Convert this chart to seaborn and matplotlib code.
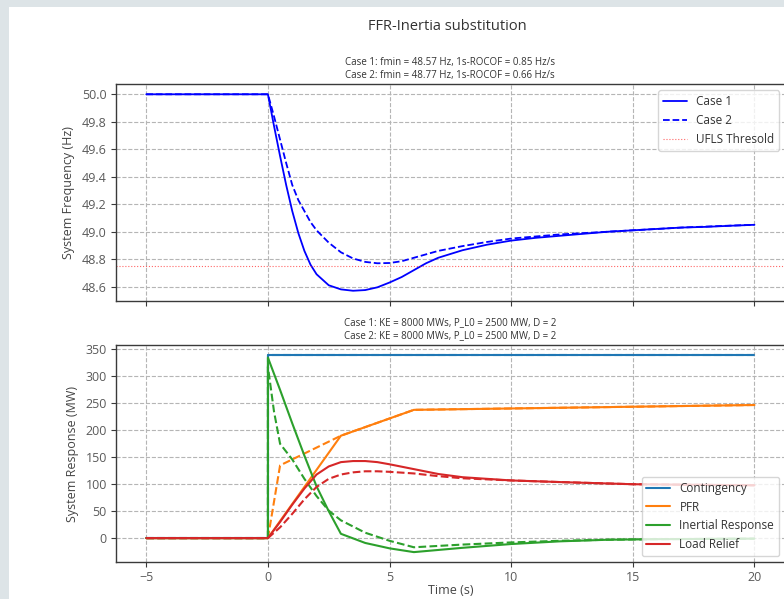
import matplotlib
matplotlib.use("Agg")
import matplotlib.pyplot as plt
from matplotlib.patches import Rectangle
from matplotlib.lines import Line2D
from matplotlib.ticker import MultipleLocator
import seaborn as sns

# ---------------- data ----------------
t_freq = [-5, 0, 0.25, 0.5, 0.75, 1.0, 1.25, 1.5, 1.75, 2.0, 2.5, 3.0, 3.5, 4.0, 4.5, 5.0,
          5.5, 6.0, 6.5, 7.0, 8.0, 9.0, 10.0, 11.0, 12.0, 13.0, 14.0, 15.0, 16.0, 17.0,
          18.0, 19.0, 20.0]
freq_case1 = [50.0, 50.0, 49.77, 49.55, 49.34, 49.15, 48.99, 48.86, 48.76, 48.69, 48.61,
              48.58, 48.57, 48.575, 48.595, 48.63, 48.67, 48.72, 48.77, 48.81, 48.865,
              48.905, 48.935, 48.955, 48.97, 48.985, 49.0, 49.01, 49.02, 49.03, 49.035,
              49.043, 49.05]
freq_case2 = [50.0, 50.0, 49.84, 49.67, 49.50, 49.34, 49.23, 49.15, 49.07, 49.01, 48.92,
              48.85, 48.805, 48.78, 48.77, 48.772, 48.785, 48.81, 48.835, 48.86, 48.895,
              48.925, 48.95, 48.965, 48.98, 48.99, 49.0, 49.01, 49.02, 49.03, 49.037,
              49.044, 49.05]
ufls_threshold = 48.75

t_cont = [-5, 0, 0, 20]
contingency = [0, 0, 340, 340]

t_pfr1 = [-5, 0, 3, 6, 20]
pfr_case1 = [0, 0, 190, 238, 247]
t_pfr2 = [-5, 0, 0.5, 3, 6, 20]
pfr_case2 = [0, 0, 135, 190, 238, 247]

t_ir1 = [-5, 0, 0, 0.5, 1.0, 1.5, 2.0, 2.5, 3.0, 4.0, 5.0, 6.0, 8.0, 10.0, 12.0, 14.0, 16.0, 20.0]
ir_case1 = [0, 0, 335, 275, 213, 153, 96, 50, 8, -9, -19, -26, -18, -11, -6, -3, -2, -1]
t_ir2 = [-5, 0, 0, 0.25, 0.5, 1.0, 1.5, 2.0, 2.5, 3.0, 4.0, 5.0, 6.0, 8.0, 10.0, 12.0, 14.0, 16.0, 20.0]
ir_case2 = [0, 0, 318, 235, 175, 146, 110, 78, 51, 33, 10, -5, -17, -12, -8, -5, -3, -2, -1]

t_lr = [-5, 0, 0.5, 1.0, 1.5, 2.0, 2.5, 3.0, 3.5, 4.0, 4.5, 5.0, 6.0, 7.0, 8.0, 10.0, 12.0, 15.0, 20.0]
lr_case1 = [0, 0, 30, 62, 92, 118, 133, 141, 143, 143, 141, 137, 128, 119, 113, 107, 104, 100, 98]
lr_case2 = [0, 0, 20, 45, 72, 95, 110, 118, 122, 124, 124, 123, 120, 115, 111, 107, 104, 100, 98]

x_ticks = [-5, 0, 5, 10, 15, 20]

# ---------------- style ----------------
sns.set_theme(style="ticks")
plt.rcParams['font.family'] = ['Open Sans', 'DejaVu Sans']
plt.rcParams.update({
    'axes.edgecolor': '#3a3a3a',
    'axes.linewidth': 1.0,
    'xtick.color': '#3a3a3a',
    'ytick.color': '#3a3a3a',
    'xtick.labelcolor': '#5a5a5a',
    'ytick.labelcolor': '#5a5a5a',
    'axes.labelcolor': '#444444',
    'text.color': '#333333',
})

fig = plt.figure(figsize=(7.84, 5.99), dpi=100, facecolor='#dde4e7')
fig.add_artist(Rectangle((9 / 784, 0), 1, 1 - 7 / 599, transform=fig.transFigure,
                         facecolor='white', edgecolor='none', zorder=-5))

ax1 = fig.add_axes([0.1478, 0.4982, 0.8533, 0.3608])
ax2 = fig.add_axes([0.1478, 0.0618, 0.8533, 0.3622], sharex=ax1)

for ax in (ax1, ax2):
    ax.set_facecolor('white')
    ax.grid(True, linestyle='--', color='#b5b5b5', linewidth=0.8)
    ax.tick_params(labelsize=9, length=3.5, width=0.8, pad=3)

# ---- top panel ----
sns.lineplot(x=t_freq, y=freq_case1, ax=ax1, color='blue', linewidth=1.3,
             estimator=None, sort=False)
sns.lineplot(x=t_freq, y=freq_case2, ax=ax1, color='blue', linewidth=1.3,
             linestyle='--', estimator=None, sort=False)
ax1.axhline(ufls_threshold, color='red', linestyle=':', linewidth=0.8, alpha=0.6)
ax1.yaxis.set_major_locator(MultipleLocator(0.2))
ax1.set_ylabel('System Frequency (Hz)', fontsize=9, labelpad=5)
ax1.tick_params(labelbottom=False)
ax1.set_title('Case 1: fmin = 48.57 Hz, 1s-ROCOF = 0.85 Hz/s\n'
              'Case 2: fmin = 48.77 Hz, 1s-ROCOF = 0.66 Hz/s', fontsize=7, pad=5)
h_top = [Line2D([], [], color='blue', lw=1.3),
         Line2D([], [], color='blue', lw=1.3, ls='--'),
         Line2D([], [], color='red', lw=0.8, ls=':', alpha=0.6)]
ax1.legend(h_top, ['Case 1', 'Case 2', 'UFLS Thresold'], loc='upper right', fontsize=8.5)

# ---- bottom panel ----
c_cont, c_pfr, c_ir, c_lr = '#1f77b4', '#ff7f0e', '#2ca02c', '#d62728'
series = [
    (t_cont, contingency, c_cont, '-'), (t_cont, contingency, c_cont, '--'),
    (t_pfr1, pfr_case1, c_pfr, '-'), (t_pfr2, pfr_case2, c_pfr, '--'),
    (t_ir1, ir_case1, c_ir, '-'), (t_ir2, ir_case2, c_ir, '--'),
    (t_lr, lr_case1, c_lr, '-'), (t_lr, lr_case2, c_lr, '--'),
]
for tx, vy, col, ls in series:
    sns.lineplot(x=tx, y=vy, ax=ax2, color=col, linestyle=ls, linewidth=1.5,
                 estimator=None, sort=False)
ax2.yaxis.set_major_locator(MultipleLocator(50))
ax2.set_ylabel('System Response (MW)', fontsize=9, labelpad=5)
ax2.set_xlabel('Time (s)', fontsize=9, labelpad=0)
ax2.set_xticks(x_ticks)
ax2.set_title('Case 1: KE = 8000 MWs, P_L0 = 2500 MW, D = 2\n'
              'Case 2: KE = 8000 MWs, P_L0 = 2500 MW, D = 2', fontsize=7, pad=5)
h_bot = [Line2D([], [], color=c, lw=1.5) for c in (c_cont, c_pfr, c_ir, c_lr)]
ax2.legend(h_bot, ['Contingency', 'PFR', 'Inertial Response', 'Load Relief'],
           loc='lower right', fontsize=8.5)

fig.text(447 / 784, 1 - 27 / 599, 'FFR-Inertia substitution', ha='center', va='center',
         fontsize=10.5)

fig.savefig('out.png', dpi=100, facecolor=fig.get_facecolor())
